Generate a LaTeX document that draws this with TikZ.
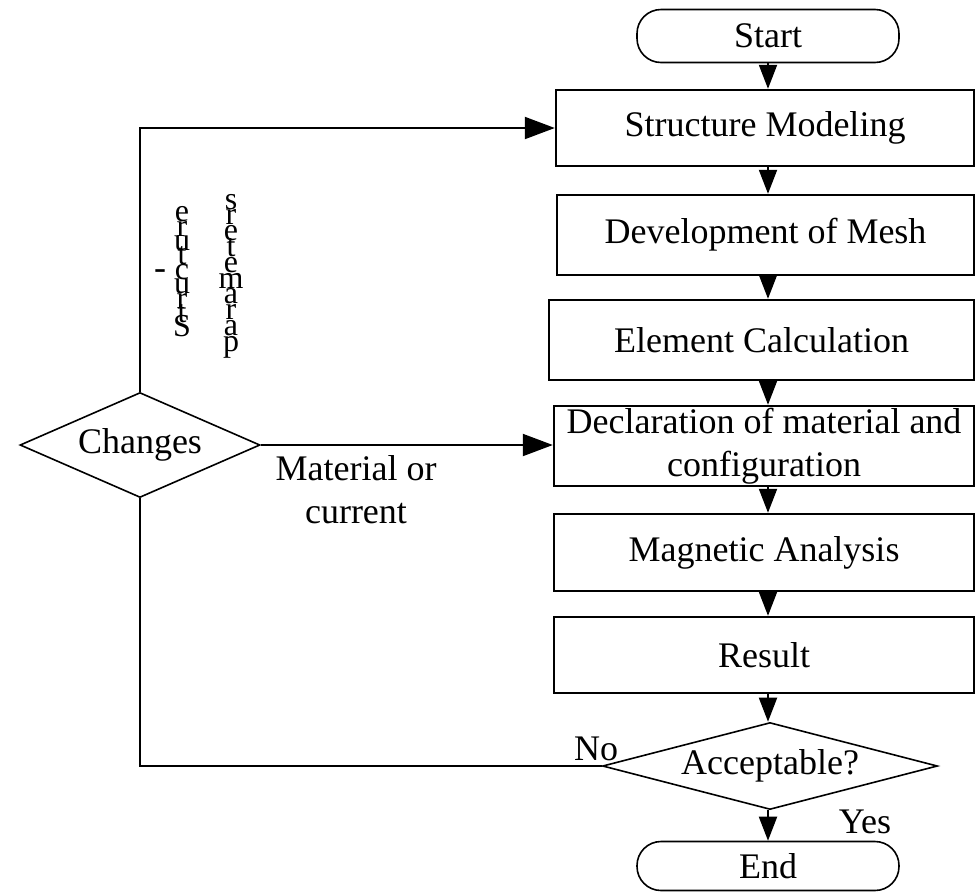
\documentclass[tikz,border=0pt]{standalone}
\usepackage{fontspec}
\setmainfont{Liberation Serif}
\usetikzlibrary{arrows.meta,shapes.geometric}
\begin{document}
\begin{tikzpicture}[x=1pt,y=-1pt,
  every node/.style={font=\fontsize{36}{43}\selectfont, inner sep=0pt},
  procbox/.style={draw, line width=2.4pt, rectangle, align=center},
  term/.style={draw, line width=1.6pt, rounded corners=24pt, minimum width=262pt},
  decision/.style={draw, diamond, line width=1.6pt},
  link/.style={line width=2pt, -{Triangle[length=24pt,width=18pt]}},
  hlink/.style={line width=2pt, -{Triangle[length=30pt,width=22pt]}},
  plain/.style={line width=2pt},
  lbl/.style={align=center},
  vcolumn/.style={align=center}
]
\useasboundingbox (0,0) rectangle (976,892);
\coordinate (col) at (768,0);
% terminals and process boxes
\node[term, minimum height=53pt] (start) at (768,36) {Start};
\node[procbox, minimum width=418pt, minimum height=76pt] (s1) at (765,128) {Structure Modeling};
\node[procbox, minimum width=417pt, minimum height=80pt] (s2) at (765.5,235) {Development of Mesh};
\node[procbox, minimum width=425pt, minimum height=80pt] (s3) at (761.5,340) {Element Calculation};
\node[procbox, minimum width=420pt, minimum height=80pt] (s4) at (764,446) {Declaration of material and\\configuration};
\node[procbox, minimum width=420pt, minimum height=77pt] (s5) at (764,552.5) {Magnetic Analysis};
\node[procbox, minimum width=420pt, minimum height=76pt] (s6) at (764,655) {Result};
\node[decision, aspect=3.8, minimum width=335pt, minimum height=87pt] (acc) at (770,766) {Acceptable?};
\node[term, minimum height=49pt] (end) at (768,866) {End};
\node[decision, aspect=2.2, minimum width=240pt, minimum height=105pt] (chg) at (140,445) {Changes};
% vertical connectors
\draw[link] (col |- start.south) -- (col |- s1.north);
\draw[link] (col |- s1.south) -- (col |- s2.north);
\draw[link] (col |- s2.south) -- (col |- s3.north);
\draw[link] (col |- s3.south) -- (col |- s4.north);
\draw[link] (col |- s4.south) -- (col |- s5.north);
\draw[link] (col |- s5.south) -- (col |- s6.north);
\draw[link] (col |- s6.south) -- (col |- acc.north);
\draw[link] (col |- acc.south) -- (col |- end.north);
% feedback loops
\draw[hlink] (chg.north) |- (s1.west);
\draw[hlink] (chg.east) -- (chg.east -| s4.west);
\draw[plain] (acc.west) -| (chg.south);
% labels
\node[lbl] (matlbl) at (356,490) {Material or\\current};
\node (nolbl) at (596,749) {No};
\node (yeslbl) at (865,822) {Yes};
\node (dash) at (160,275) {-};
\node[vcolumn, font={\fontsize{32}{14.4}\selectfont\lineskiplimit=-100pt\lineskip=0pt}] (vcola) at (182,272)
  {e\\r\\u\\t\\c\\u\\r\\t\\S};
\node[vcolumn, font={\fontsize{32}{15.8}\selectfont\lineskiplimit=-100pt\lineskip=0pt}] (vcolb) at (231,276)
  {s\\r\\e\\t\\e\\m\\a\\r\\a\\p};
\end{tikzpicture}
\end{document}
